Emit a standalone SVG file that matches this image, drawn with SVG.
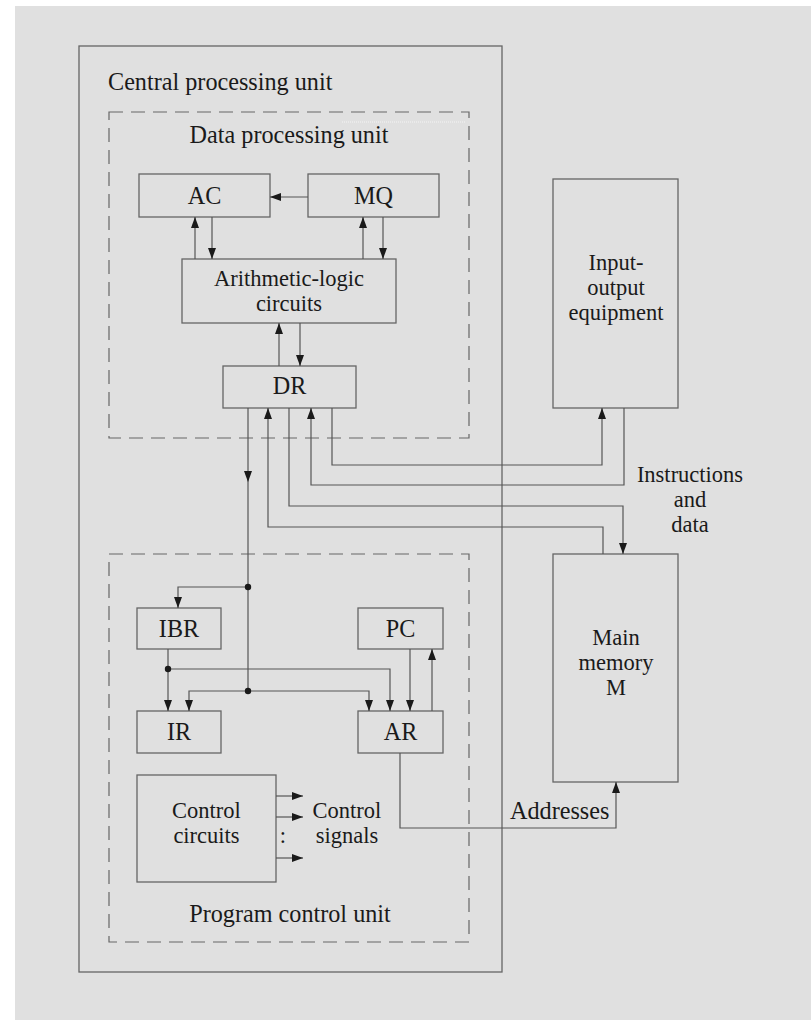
<svg xmlns="http://www.w3.org/2000/svg" width="811" height="1020" viewBox="0 0 811 1020">
<defs>
<style>
.box{fill:none;stroke:#666;stroke-width:1.3}
.dash{fill:none;stroke:#666;stroke-width:1.2;stroke-dasharray:14 8}
.c{fill:none;stroke:#555;stroke-width:1.2}
.ca{fill:none;stroke:#555;stroke-width:1.2;marker-end:url(#ah)}
text{font-family:"Liberation Serif","Times New Roman",serif;font-size:24.2px;fill:#1a1a1a}
text.t2{font-size:22.5px}
.m{text-anchor:middle}
.dot{fill:#1a1a1a}
</style>
<marker id="ah" markerUnits="userSpaceOnUse" markerWidth="12" markerHeight="8" refX="11" refY="4" orient="auto">
<path d="M0,0 L11,4 L0,8 z" fill="#1a1a1a"/>
</marker>
</defs>
<rect x="0" y="0" width="811" height="1020" fill="#ffffff"/>
<rect x="15" y="6" width="796" height="1014" fill="#e0e0e0"/>

<g id="cpu">
<rect class="box" x="79" y="46" width="423" height="926"/>
<text x="108" y="90">Central processing unit</text>
</g>
<g id="dpu">
<rect class="dash" x="109" y="112" width="360" height="326"/>
<line x1="342" y1="122" x2="466" y2="122" stroke="#f4f4f4" stroke-width="1" stroke-dasharray="1 1"/>
<text class="m" x="289" y="143">Data processing unit</text>
</g>
<g id="pcu">
<rect class="dash" x="109" y="554" width="360" height="388"/>
<text class="m" x="290" y="922">Program control unit</text>
</g>

<g id="ac"><rect class="box" x="139" y="174" width="131" height="43"/><text class="m" x="204.5" y="204">AC</text></g>
<g id="mq"><rect class="box" x="308" y="174" width="131" height="43"/><text class="m" x="373.5" y="204">MQ</text></g>
<g id="alu"><rect class="box" x="182" y="259" width="214" height="64"/><text class="m t2" x="289" y="286">Arithmetic-logic</text><text class="m t2" x="289" y="311">circuits</text></g>
<g id="dr"><rect class="box" x="223" y="366" width="133" height="42"/><text class="m" x="289.5" y="394">DR</text></g>
<g id="io"><rect class="box" x="553" y="179" width="125" height="229"/><text class="m t2" x="616" y="270">Input-</text><text class="m t2" x="616" y="295">output</text><text class="m t2" x="616" y="320">equipment</text></g>
<g id="mem"><rect class="box" x="553" y="554" width="125" height="228"/><text class="m t2" x="616" y="645">Main</text><text class="m t2" x="616" y="670">memory</text><text class="m t2" x="616" y="695">M</text></g>
<g id="ibr"><rect class="box" x="137" y="608" width="84" height="41"/><text class="m" x="179" y="637">IBR</text></g>
<g id="pc"><rect class="box" x="358" y="608" width="85" height="41"/><text class="m" x="400.5" y="637">PC</text></g>
<g id="ir"><rect class="box" x="137" y="711" width="84" height="42"/><text class="m" x="179" y="740">IR</text></g>
<g id="ar"><rect class="box" x="358" y="711" width="85" height="42"/><text class="m" x="400.5" y="740">AR</text></g>
<g id="ctrl"><rect class="box" x="137" y="775" width="139" height="107"/><text class="m t2" x="206.5" y="818">Control</text><text class="m t2" x="206.5" y="843">circuits</text></g>

<g id="labels">
<text class="m t2" x="690" y="482">Instructions</text>
<text class="m t2" x="690" y="507">and</text>
<text class="m t2" x="690" y="532">data</text>
<text x="510" y="819">Addresses</text>
<text class="m t2" x="347" y="818">Control</text>
<text class="m t2" x="347" y="843">signals</text>
<text class="m t2" x="283" y="843">:</text>
</g>

<g id="connectors">
<path class="ca" d="M308,197 H270"/>
<path class="ca" d="M195,259 V217"/>
<path class="ca" d="M212,217 V259"/>
<path class="ca" d="M363,259 V217"/>
<path class="ca" d="M383,217 V259"/>
<path class="ca" d="M279,366 V323"/>
<path class="ca" d="M300,323 V366"/>
<path class="ca" d="M248,408 V482"/>
<path class="c" d="M248,482 V691"/>
<path class="ca" d="M603,554 V527 H268 V408"/>
<path class="ca" d="M289,408 V506 H623 V554"/>
<path class="ca" d="M624,408 V485 H311 V408"/>
<path class="ca" d="M332,408 V465 H602 V408"/>
<path class="ca" d="M248,587 H178 V608"/>
<path class="ca" d="M168,649 V711"/>
<path class="ca" d="M168,669 H390 V711"/>
<path class="ca" d="M248,691 H189 V711"/>
<path class="ca" d="M248,691 H369 V711"/>
<path class="ca" d="M410,649 V711"/>
<path class="ca" d="M432,711 V649"/>
<path class="ca" d="M400,753 V828 H616 V782"/>
<path class="ca" d="M276,796 H303"/>
<path class="ca" d="M276,817 H303"/>
<path class="ca" d="M276,858 H303"/>
<circle class="dot" cx="248" cy="587" r="3.2"/>
<circle class="dot" cx="248" cy="691" r="3.2"/>
<circle class="dot" cx="168" cy="669" r="3.2"/>
</g>
</svg>
